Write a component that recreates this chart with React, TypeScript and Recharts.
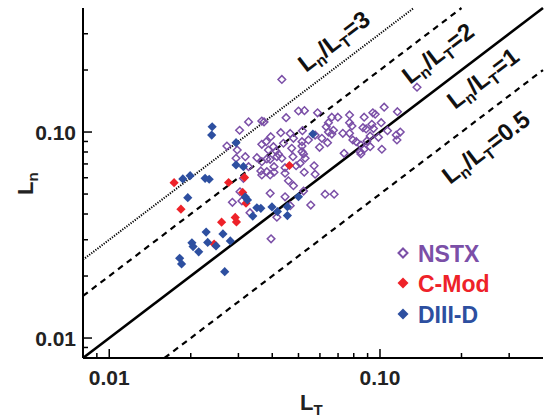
import React from 'react';
import { ScatterChart, Scatter, XAxis, YAxis, ReferenceLine } from 'recharts';

// L_T, L_n pairs
const nstxPoints: [number, number][] = [
  [0.137, 0.165], [0.05, 0.1265], [0.0526, 0.127], [0.0588, 0.124], [0.0772, 0.121], [0.0941, 0.124],
  [0.096, 0.122], [0.1036, 0.132], [0.116, 0.1255], [0.0664, 0.118], [0.0699, 0.118], [0.0645, 0.111],
  [0.0772, 0.111], [0.0874, 0.118], [0.101, 0.111], [0.0788, 0.107], [0.0633, 0.106], [0.0673, 0.102],
  [0.0645, 0.1], [0.0865, 0.105], [0.0933, 0.109], [0.0946, 0.104], [0.0889, 0.1035], [0.1066, 0.1015],
  [0.1188, 0.1], [0.0466, 0.0984], [0.0517, 0.1015], [0.0576, 0.0967], [0.0664, 0.0978], [0.0729, 0.0986],
  [0.0772, 0.0986], [0.092, 0.0957], [0.0987, 0.0943], [0.1148, 0.0967], [0.1155, 0.0915], [0.0479, 0.0932],
  [0.0515, 0.0898], [0.0544, 0.0915], [0.061, 0.0932], [0.0794, 0.0915], [0.0817, 0.0898], [0.0895, 0.0905],
  [0.064, 0.0888], [0.0515, 0.0855], [0.0598, 0.0843], [0.085, 0.0865], [0.092, 0.0849], [0.0472, 0.0834],
  [0.0874, 0.0825], [0.0845, 0.0803], [0.1016, 0.0825], [0.0737, 0.0788], [0.0522, 0.0783], [0.085, 0.0783],
  [0.0477, 0.0759], [0.0529, 0.0746], [0.0327, 0.112], [0.0366, 0.113], [0.0373, 0.112], [0.045, 0.1174],
  [0.0303, 0.102], [0.0395, 0.0949], [0.043, 0.0993], [0.0272, 0.0855], [0.0366, 0.0872], [0.038, 0.0898],
  [0.0404, 0.0849], [0.044, 0.0882], [0.0413, 0.0809], [0.0422, 0.078], [0.0416, 0.0759], [0.0434, 0.0746],
  [0.0387, 0.0818], [0.0318, 0.0759], [0.0351, 0.0751], [0.0382, 0.074], [0.0515, 0.0803], [0.0507, 0.0705],
  [0.0571, 0.0686], [0.049, 0.0686], [0.0446, 0.0671], [0.0406, 0.0679], [0.0406, 0.0638], [0.0363, 0.0647],
  [0.0382, 0.0642], [0.0525, 0.0638], [0.0446, 0.0631], [0.0327, 0.0679], [0.0366, 0.0619], [0.0393, 0.0619],
  [0.0313, 0.0596], [0.0576, 0.0624], [0.0459, 0.058], [0.0479, 0.0549], [0.0304, 0.0513], [0.0393, 0.0504],
  [0.0446, 0.0485], [0.0522, 0.0517], [0.0627, 0.0499], [0.0677, 0.0499], [0.0285, 0.0456], [0.0309, 0.0463],
  [0.0466, 0.0439], [0.0555, 0.0442], [0.0331, 0.0406], [0.0416, 0.0386], [0.0396, 0.0303], [0.0297, 0.0818],
  [0.0294, 0.0746], [0.0366, 0.0718], [0.0393, 0.0737], [0.0434, 0.18],
];

const cmodPoints: [number, number][] = [
  [0.01736, 0.0568], [0.0276, 0.0569], [0.0316, 0.0602], [0.0463, 0.0688], [0.0184, 0.0422], [0.0311, 0.0509],
  [0.032, 0.0451], [0.0292, 0.0385], [0.0295, 0.0366], [0.026, 0.0365], [0.0244, 0.0286],
];

const diiidPoints: [number, number][] = [
  [0.024, 0.1061], [0.0239, 0.0967], [0.0294, 0.0888], [0.0565, 0.0978], [0.0294, 0.0692], [0.0313, 0.0679],
  [0.0187, 0.0592], [0.0199, 0.0614], [0.0226, 0.0596], [0.0234, 0.059], [0.0195, 0.048], [0.0318, 0.0484],
  [0.0324, 0.0468], [0.0351, 0.0429], [0.0363, 0.0426], [0.0399, 0.0433], [0.0418, 0.0411], [0.0455, 0.0434],
  [0.05, 0.0485], [0.0339, 0.0391], [0.0455, 0.0393], [0.0228, 0.0327], [0.0263, 0.032], [0.028, 0.0296],
  [0.0202, 0.029], [0.0204, 0.0278], [0.0231, 0.0291], [0.0248, 0.028], [0.0214, 0.0262], [0.0182, 0.0244],
  [0.0185, 0.0229], [0.0267, 0.021],
];

const ratios = [3, 2, 1, 0.5];
const ratioLabels = ['3', '2', '1', '0.5'];
const axisDomain: [number, number] = [0.008, 0.4];
const tickValues = [0.009, 0.01, 0.02, 0.03, 0.04, 0.05, 0.06, 0.07, 0.08, 0.09, 0.1, 0.2, 0.3];
const majorTicks = [0.01, 0.1];
const majorTickLabels = ['0.01', '0.10'];
const seriesNames = ['NSTX', 'C-Mod', 'DIII-D'];

const COLORS = { nstx: '#7B4FA7', cmod: '#EE2229', diiid: '#2D4FA0' };
const FONT = '"Liberation Sans", Arial, Helvetica, sans-serif';

const toObj = (arr: [number, number][]) => arr.map(([lt, ln]) => ({ lt, ln }));

const ratioStyle: Record<number, { dash?: string; width: number }> = {
  3: { dash: '1.2 1.4', width: 2 },
  2: { dash: '6 5', width: 2.2 },
  1: { width: 2.6 },
  0.5: { dash: '6 5', width: 2.2 },
};

function segmentFor(k: number) {
  const [lo, hi] = axisDomain;
  const x0 = Math.max(lo, lo / k);
  const x1 = Math.min(hi, hi / k);
  return [
    { x: x0, y: x0 * k },
    { x: x1, y: x1 * k },
  ];
}

function diamond(cx: number, cy: number, r: number) {
  return `M${cx},${cy - r} L${cx + r},${cy} L${cx},${cy + r} L${cx - r},${cy} Z`;
}

const OpenDiamond = (props: any) => {
  const { cx, cy } = props;
  if (cx == null || cy == null) return null;
  return <path d={diamond(cx, cy, 3.8)} fill="none" stroke={COLORS.nstx} strokeWidth={1.5} />;
};
const RedDiamond = (props: any) => {
  const { cx, cy } = props;
  if (cx == null || cy == null) return null;
  return <path d={diamond(cx, cy, 4.6)} fill={COLORS.cmod} stroke="none" />;
};
const BlueDiamond = (props: any) => {
  const { cx, cy } = props;
  if (cx == null || cy == null) return null;
  return <path d={diamond(cx, cy, 4.6)} fill={COLORS.diiid} stroke="none" />;
};

function labelFor(v: number) {
  const i = majorTicks.indexOf(v);
  return i >= 0 ? majorTickLabels[i] : '';
}

const makeTick = (side: 'bottom' | 'top' | 'left' | 'right') => (props: any) => {
  const { x, y, payload } = props;
  const v = payload.value;
  const major = majorTicks.indexOf(v) >= 0;
  const len = major ? 9 : 5;
  let line;
  if (side === 'bottom') line = <line x1={x} y1={y} x2={x} y2={y - len} stroke="#000" strokeWidth={1.5} />;
  else if (side === 'top') line = <line x1={x} y1={y} x2={x} y2={y + len} stroke="#000" strokeWidth={1.5} />;
  else if (side === 'left') line = <line x1={x} y1={y} x2={x + len} y2={y} stroke="#000" strokeWidth={1.5} />;
  else line = <line x1={x} y1={y} x2={x - len} y2={y} stroke="#000" strokeWidth={1.5} />;
  const lab = labelFor(v);
  let text = null;
  if (lab && side === 'bottom') {
    text = (
      <text x={x} y={y + 27} textAnchor="middle" fontFamily={FONT} fontWeight="bold" fontSize={21} fill="#222">
        {lab}
      </text>
    );
  } else if (lab && side === 'left') {
    text = (
      <text x={x - 7} y={y + 8} textAnchor="end" fontFamily={FONT} fontWeight="bold" fontSize={21} fill="#222">
        {lab}
      </text>
    );
  }
  return (
    <g>
      {line}
      {text}
    </g>
  );
};

const RatioLabel = ({ x, y, label }: { x: number; y: number; label: string }) => (
  <text
    transform={`translate(${x},${y}) rotate(-37.3)`}
    fontFamily={FONT}
    fontWeight="bold"
    fontSize={24}
    fill="#111"
  >
    <tspan>L</tspan>
    <tspan dy={5} fontSize={16}>n</tspan>
    <tspan dy={-5}>/L</tspan>
    <tspan dy={5} fontSize={16}>T</tspan>
    <tspan dy={-5}>={label}</tspan>
  </text>
);

const ratioLabelPos = [
  { x: 306, y: 73 },
  { x: 410, y: 85 },
  { x: 455, y: 110 },
  { x: 450, y: 185 },
];

const legendRows = [
  { name: seriesNames[0], color: COLORS.nstx, open: true, y: 253 },
  { name: seriesNames[1], color: COLORS.cmod, open: false, y: 283 },
  { name: seriesNames[2], color: COLORS.diiid, open: false, y: 314 },
];

export default function App() {
  const W = 546;
  const H = 419;
  return (
    <div style={{ position: 'absolute', left: 0, top: 0, width: W, height: H, background: '#fff' }}>
      <ScatterChart width={W} height={H} margin={{ top: 8, right: 3, bottom: 0, left: 0 }}>
        <XAxis
          xAxisId="b"
          dataKey="lt"
          type="number"
          scale="log"
          domain={axisDomain}
          allowDataOverflow
          ticks={tickValues}
          interval={0}
          orientation="bottom"
          height={61}
          tickSize={0}
          tickMargin={0}
          tickLine={false}
          axisLine={{ stroke: '#000', strokeWidth: 2 }}
          tick={makeTick('bottom')}
        />
        <XAxis
          xAxisId="t"
          dataKey="lt"
          type="number"
          scale="log"
          domain={axisDomain}
          allowDataOverflow
          ticks={tickValues}
          interval={0}
          orientation="top"
          height={0}
          tickSize={0}
          tickMargin={0}
          tickLine={false}
          axisLine={{ stroke: '#000', strokeWidth: 2 }}
          tick={makeTick('top')}
        />
        <YAxis
          yAxisId="l"
          dataKey="ln"
          type="number"
          scale="log"
          domain={axisDomain}
          allowDataOverflow
          ticks={tickValues}
          interval={0}
          orientation="left"
          width={83}
          tickSize={0}
          tickMargin={0}
          tickLine={false}
          axisLine={{ stroke: '#000', strokeWidth: 2 }}
          tick={makeTick('left')}
        />
        <YAxis
          yAxisId="r"
          dataKey="ln"
          type="number"
          scale="log"
          domain={axisDomain}
          allowDataOverflow
          ticks={tickValues}
          interval={0}
          orientation="right"
          width={0}
          tickSize={0}
          tickMargin={0}
          tickLine={false}
          axisLine={{ stroke: '#000', strokeWidth: 2 }}
          tick={makeTick('right')}
        />
        {ratios.map((k) => (
          <ReferenceLine
            key={k}
            xAxisId="b"
            yAxisId="l"
            segment={segmentFor(k)}
            stroke="#000"
            strokeWidth={ratioStyle[k].width}
            strokeDasharray={ratioStyle[k].dash}
            ifOverflow="visible"
          />
        ))}
        <Scatter
          name={seriesNames[0]}
          xAxisId="b"
          yAxisId="l"
          data={toObj(nstxPoints)}
          shape={OpenDiamond}
          isAnimationActive={false}
        />
        <Scatter
          name={seriesNames[1]}
          xAxisId="b"
          yAxisId="l"
          data={toObj(cmodPoints)}
          shape={RedDiamond}
          isAnimationActive={false}
        />
        <Scatter
          name={seriesNames[2]}
          xAxisId="b"
          yAxisId="l"
          data={toObj(diiidPoints)}
          shape={BlueDiamond}
          isAnimationActive={false}
        />
      </ScatterChart>
      <svg
        width={W}
        height={H}
        style={{ position: 'absolute', left: 0, top: 0, pointerEvents: 'none' }}
      >
        {ratios.map((k, i) => (
          <RatioLabel key={k} x={ratioLabelPos[i].x} y={ratioLabelPos[i].y} label={ratioLabels[i]} />
        ))}
        {legendRows.map((r) => (
          <g key={r.name}>
            <path
              d={diamond(403, r.y, r.open ? 4.5 : 5.5)}
              fill={r.open ? 'none' : r.color}
              stroke={r.open ? r.color : 'none'}
              strokeWidth={2}
            />
            <text x={418} y={r.y + 9} fontFamily={FONT} fontWeight="bold" fontSize={23} fill={r.color}>
              {r.name}
            </text>
          </g>
        ))}
        <text transform="translate(33,195) rotate(-90)" fontFamily={FONT} fontWeight="bold" fontSize={22} fill="#222">
          <tspan>L</tspan>
          <tspan dy={5} fontSize={15}>n</tspan>
        </text>
        <text x={300} y={410} fontFamily={FONT} fontWeight="bold" fontSize={22} fill="#222">
          <tspan>L</tspan>
          <tspan dy={5} fontSize={15}>T</tspan>
        </text>
      </svg>
    </div>
  );
}
